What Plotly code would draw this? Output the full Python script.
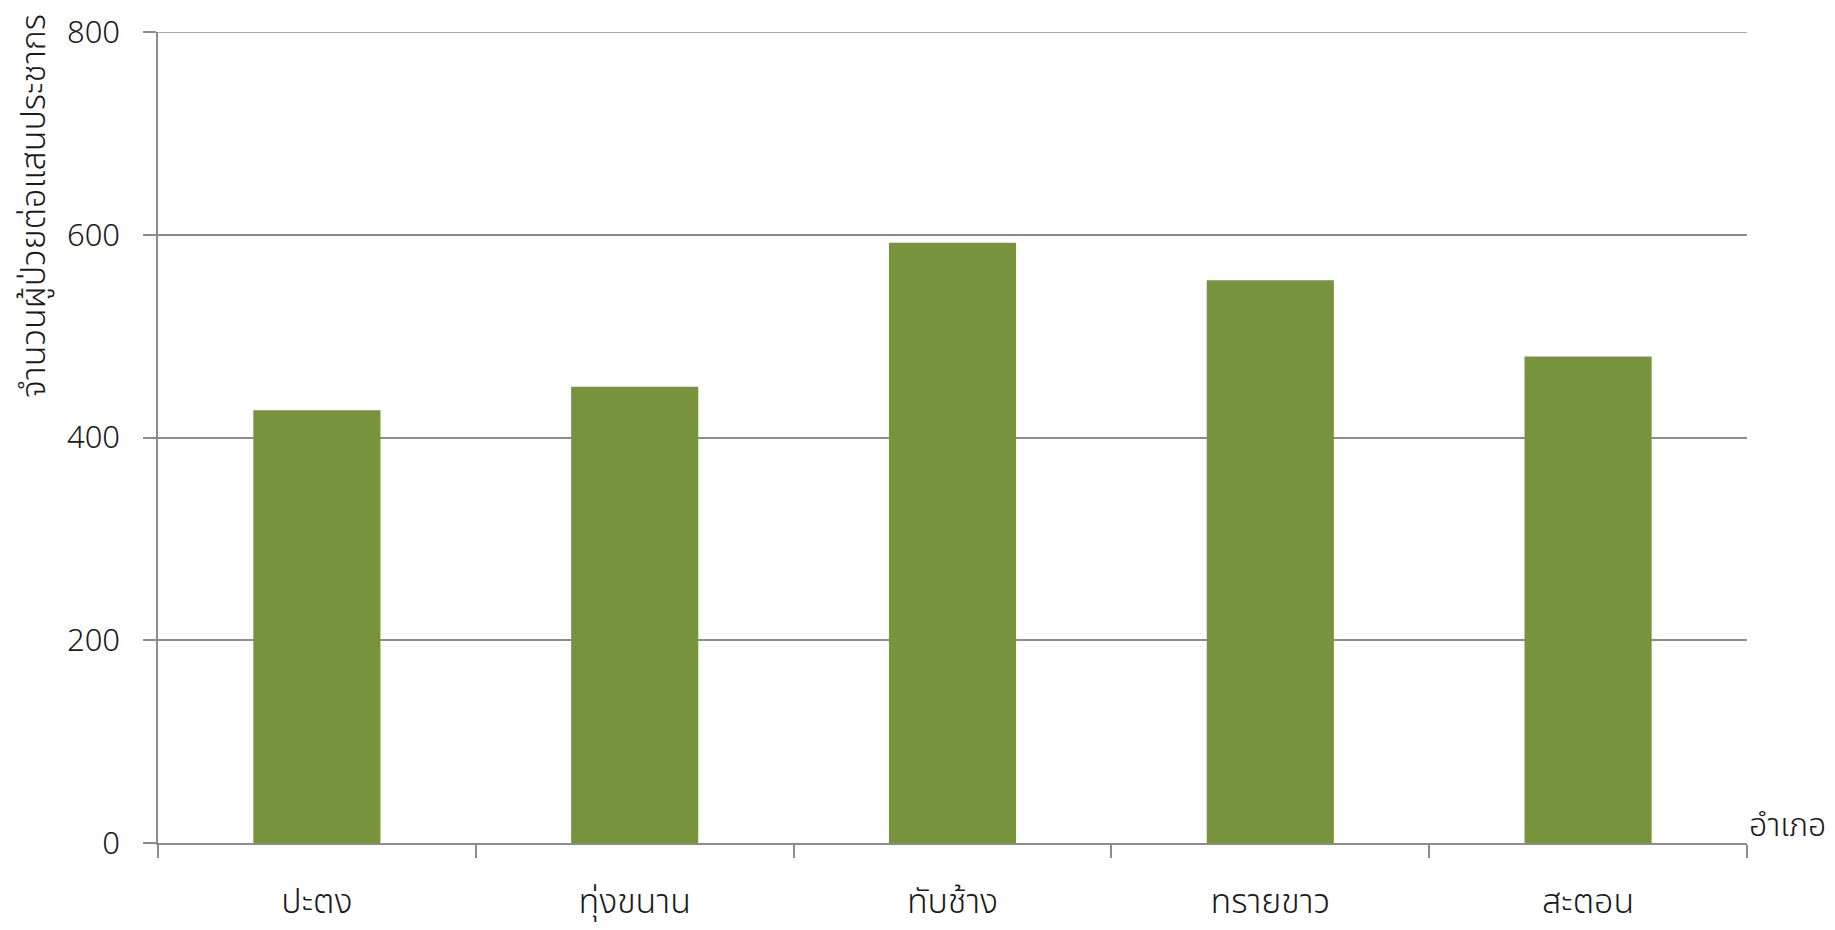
import plotly.graph_objects as go

categories = ["ปะตง", "ทุ่งขนาน", "ทับช้าง", "ทรายขาว", "สะตอน"]
values = [427, 450, 592, 555, 480]
y_ticks = [0, 200, 400, 600, 800]
y_title = "จำนวนผู้ป่วยต่อแสนประชากร"
x_title = "อำเภอ"

FONT = "Noto Sans, Noto Sans Thai, sans-serif"
GRID = "#8c8c8c"
TXT = "#1a1a1a"

W, H = 1819, 914
L, R, T, B = 150, 80, 24, 79
PW, PH = W - L - R, H - T - B

fig = go.Figure(
    go.Bar(
        x=categories,
        y=values,
        marker=dict(color="#77933C", line=dict(width=0)),
        hoverinfo="x+y",
    )
)

fig.update_layout(
    width=W,
    height=H,
    margin=dict(l=L, r=R, t=T, b=B, autoexpand=False),
    paper_bgcolor="white",
    plot_bgcolor="white",
    bargap=0.6,
    showlegend=False,
    font=dict(family=FONT, size=32, color=TXT, weight=300),
)

fig.update_xaxes(
    type="category",
    automargin=False,
    showline=True,
    linecolor=GRID,
    linewidth=1.5,
    ticks="outside",
    tickson="boundaries",
    ticklen=13,
    tickcolor=GRID,
    tickwidth=1.5,
    showgrid=False,
    ticklabelstandoff=27,
    tickfont=dict(family=FONT, size=34, color=TXT, weight=300),
)

fig.update_yaxes(
    range=[0, 800],
    automargin=False,
    tickvals=y_ticks,
    ticktext=[str(v) for v in y_ticks],
    showline=True,
    linecolor=GRID,
    linewidth=1.5,
    ticks="outside",
    ticklen=13,
    tickcolor=GRID,
    tickwidth=1.5,
    showgrid=True,
    gridcolor=GRID,
    gridwidth=1.5,
    zeroline=False,
    ticklabelstandoff=17,
    tickfont=dict(family=FONT, size=31, color=TXT, weight=300),
)

# top gridline at the axis maximum (plotly drops the gridline at the range edge)
fig.add_shape(
    type="line",
    xref="paper", yref="y",
    x0=0, x1=1, y0=y_ticks[-1], y1=y_ticks[-1],
    line=dict(color=GRID, width=1.5),
    layer="below",
)

fig.add_annotation(
    text=y_title,
    textangle=-90,
    xref="paper", yref="paper",
    x=(-1 - L) / PW, y=1 + 20 / PH,
    xanchor="left", yanchor="top",
    showarrow=False,
    font=dict(family=FONT, size=34, color=TXT, weight=300),
)

fig.add_annotation(
    text=x_title,
    xref="paper", yref="paper",
    x=1, y=0,
    xanchor="left", yanchor="bottom",
    xshift=0, yshift=-4,
    showarrow=False,
    font=dict(family=FONT, size=32, color=TXT, weight=300),
)

fig.write_html("out.html")
